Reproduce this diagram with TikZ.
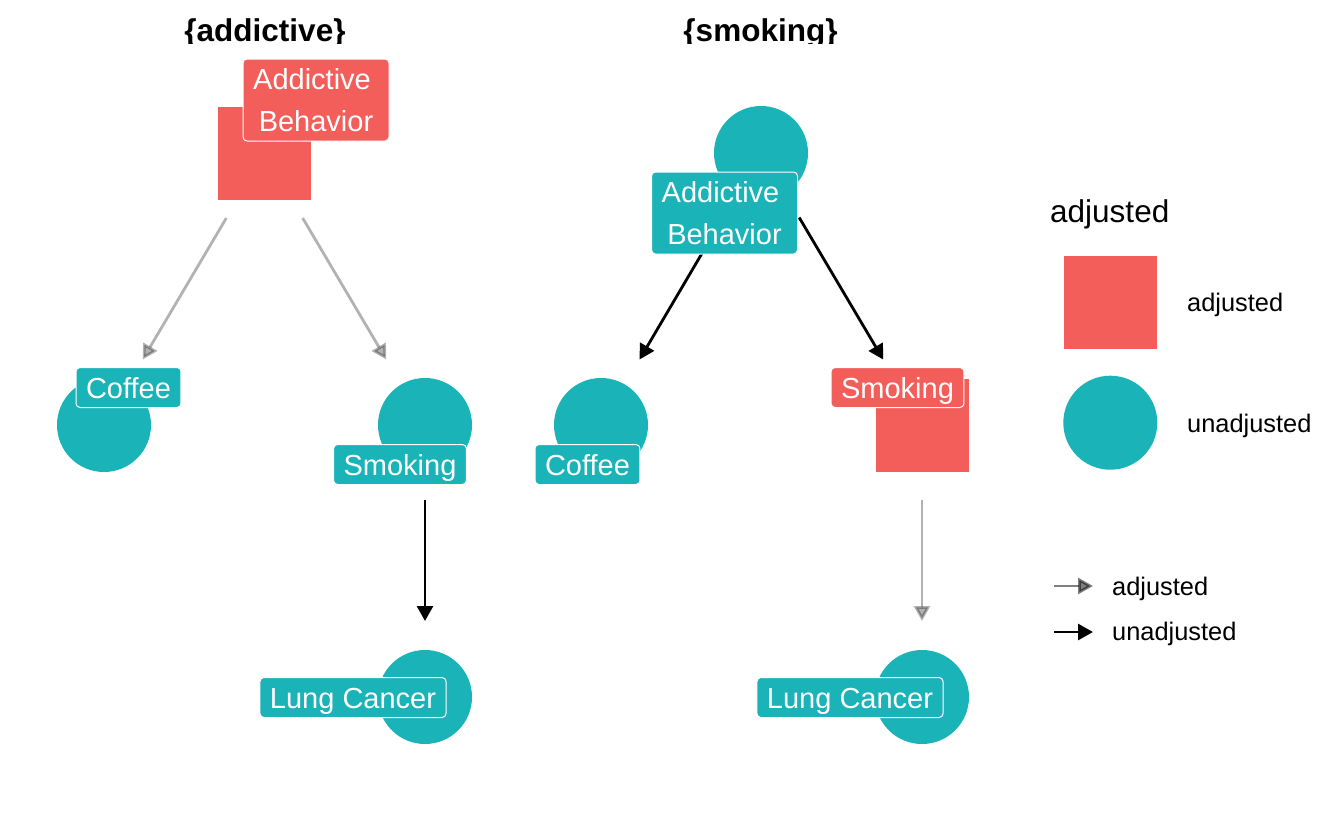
\documentclass[tikz,border=0pt]{standalone}
\usepackage{fontspec}
\setmainfont{Liberation Sans}
\usepackage{xcolor}
\usetikzlibrary{arrows.meta}
\definecolor{adjred}{RGB}{243,94,90}
\definecolor{unadjteal}{RGB}{26,179,184}
\newcommand{\labfont}{\fontsize{29}{42}\selectfont}
\newcommand{\keyfont}{\fontsize{25.4}{30}\selectfont}
\newcommand{\headfont}{\fontsize{31.5}{36}\selectfont}
\tikzstyle{adjnode} = [rectangle, fill=adjred, minimum size=93pt, inner sep=0pt]
\tikzstyle{unadjnode} = [circle, fill=unadjteal, minimum size=94pt, inner sep=0pt]
\tikzstyle{tag} = [rectangle, rounded corners=4pt, draw=white, line width=1pt, text=white, font=\labfont, inner xsep=10pt, inner ysep=0pt, minimum height=40pt, text height=21pt, text depth=0pt]
\tikzstyle{tagtwo} = [rectangle, rounded corners=4pt, draw=white, line width=1pt, text=white, font=\labfont, align=center, minimum width=146pt, minimum height=82pt, inner sep=0pt]
\tikzstyle{adjedge} = [opacity=0.3, line width=2.8pt, shorten <=75pt, shorten >=76pt]
\tikzstyle{unadjedge} = [line width=2.8pt, shorten <=75pt, shorten >=76pt]
\tikzstyle{keytext} = [anchor=base west, inner sep=0pt, font=\keyfont]

\begin{document}
\begin{tikzpicture}[->,>={Triangle[length=15pt,width=16pt]},x=1pt,y=-1pt]
  \path[fill=white] (0,0) rectangle (1344,830);

  % left panel
  \node[adjnode] (AB_1) at (264.5,153.5) {};
  \node[unadjnode] (C_1) at (104,425) {};
  \node[unadjnode] (S_1) at (425,425) {};
  \node[unadjnode] (L_1) at (425,697) {};

  % right panel
  \node[unadjnode] (AB_2) at (761,153) {};
  \node[unadjnode] (C_2) at (601,425) {};
  \node[adjnode] (S_2) at (922,425) {};
  \node[unadjnode] (L_2) at (922,697) {};

  \path (AB_1.center) edge[adjedge] (C_1.center);
  \path (AB_1.center) edge[adjedge] (S_1.center);
  \path (S_1.center) edge[unadjedge] (L_1.center);
  \path (AB_2.center) edge[unadjedge] (C_2.center);
  \path (AB_2.center) edge[unadjedge] (S_2.center);
  \path (S_2.center) edge[adjedge] (L_2.center);

  \node[tagtwo, fill=adjred] (ABt_1) at (316,100) {Addictive\hspace*{8pt}\\Behavior};
  \node[tag, fill=unadjteal] (Ct_1) at (128.5,387.5) {Coffee};
  \node[tag, fill=unadjteal] (St_1) at (400,464.5) {Smoking};
  \node[tag, fill=unadjteal] (Lt_1) at (353,697.5) {Lung Cancer};
  \node[tagtwo, fill=unadjteal] (ABt_2) at (724.5,213) {Addictive\hspace*{8pt}\\Behavior};
  \node[tag, fill=unadjteal] (Ct_2) at (587.5,464.5) {Coffee};
  \node[tag, fill=adjred] (St_2) at (897.5,387.5) {Smoking};
  \node[tag, fill=unadjteal] (Lt_2) at (850,697.5) {Lung Cancer};

  % panel titles
  \begin{scope}
    \clip (0,0) rectangle (1344,43.5);
    \node[anchor=base, inner sep=0pt, font=\bfseries\headfont] (T_1) at (265,41.5) {\{addictive\}};
    \node[anchor=base, inner sep=0pt, font=\bfseries\headfont] (T_2) at (760.5,41.5) {\{smoking\}};
  \end{scope}

  % legend
  \node[anchor=base west, inner sep=0pt, font=\headfont] (K_0) at (1050,222.5) {adjusted};
  \node[adjnode] (K_1) at (1110.5,302) {};
  \node[keytext] (K_1t) at (1187,311.7) {adjusted};
  \node[unadjnode] (K_2) at (1110.3,422.7) {};
  \node[keytext] (K_2t) at (1187,432) {unadjusted};
  \coordinate (K_3a) at (1054,586);
  \coordinate (K_3b) at (1093,586);
  \coordinate (K_4a) at (1054,632);
  \coordinate (K_4b) at (1093,632);
  \path (K_3a) edge[opacity=0.5, line width=2.8pt] (K_3b);
  \path (K_4a) edge[line width=2.8pt] (K_4b);
  \node[keytext] (K_3t) at (1112,595) {adjusted};
  \node[keytext] (K_4t) at (1112,640.7) {unadjusted};
\end{tikzpicture}
\end{document}
